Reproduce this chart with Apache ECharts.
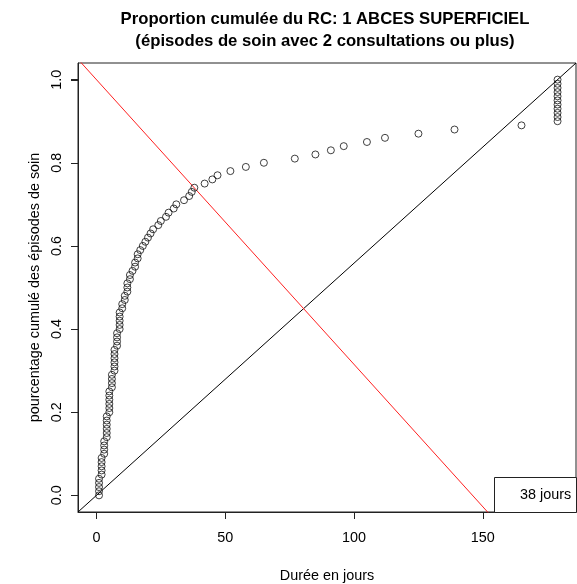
<!DOCTYPE html>
<html>
<head>
<meta charset="utf-8">
<script src="https://cdn.jsdelivr.net/npm/echarts@6/dist/echarts.min.js"></script>
<style>
html,body{margin:0;padding:0;background:#fff;}
#chart{width:577px;height:584px;}
</style>
</head>
<body>
<div id="chart"></div>
<script>
// Episode durations in days (sorted), one per point
var durations = [
  1,1,1,1,1, 2,2,2,2,2, 3,3,3,3, 4,4,4,4,4,4, 5,5,5,5,5,5, 6,6,6,6,
  7,7,7,7,7,7, 8,8,8,8, 9,9,9,9,9, 10,10, 11,11, 12,12, 12,13,13,14,15,15,16,16,
  17,18,19,20,21,22,24,25,27,28,30,31,34,36,37,38,
  42,45,47,52,58,65,77,85,91,96,105,112,125,139,165,
  179,179,179,179,179,179,179,179,179,179,179
];
// Cumulative proportion of care episodes
var cumulative = [
  0.00,0.01,0.02,0.03,0.04,0.05,0.06,0.07,0.08,0.09,
  0.10,0.11,0.12,0.13,0.14,0.15,0.16,0.17,0.18,0.19,
  0.20,0.21,0.22,0.23,0.24,0.25,0.26,0.27,0.28,0.29,
  0.30,0.31,0.32,0.33,0.34,0.35,0.36,0.37,0.38,0.39,
  0.40,0.41,0.42,0.43,0.44,0.45,0.46,0.47,0.48,0.49,
  0.50,0.51,0.52,0.53,0.54,0.55,0.56,0.57,0.58,0.59,
  0.60,0.61,0.62,0.63,0.64,0.65,0.66,0.67,0.68,0.69,
  0.70,0.71,0.72,0.73,0.74,0.75,0.76,0.77,0.78,0.79,
  0.80,0.81,0.82,0.83,0.84,0.85,0.86,0.87,0.88,0.89,
  0.90,0.91,0.92,0.93,0.94,0.95,0.96,0.97,0.98,0.99,1.00
];
var xTicks = [0, 50, 100, 150];
var yTicks = [0, 0.2, 0.4, 0.6, 0.8, 1.0];
var xRange = [0, 179];
var yRange = [0, 1];
// reference lines: intercept, slope
var diagonalLine = {intercept: 0, slope: 1 / 179};
var kneeLine = {intercept: 1, slope: -1 / 146};
var kneeDays = 38;

var titleText = 'Proportion cumulée du RC: 1 ABCES SUPERFICIEL\n(épisodes de soin avec 2 consultations ou plus)';
var xName = 'Durée en jours';
var yName = 'pourcentage cumulé des épisodes de soin';

var FONT = '"Liberation Sans", Arial, Helvetica, sans-serif';
var TICK_LEN = 7;
var W = 577, H = 584;
var GRID = {left: 78, right: 1, top: 63, bottom: 72};
var xPad = (xRange[1] - xRange[0]) * 0.04;
var yPad = (yRange[1] - yRange[0]) * 0.04;
var xMin = xRange[0] - xPad, xMax = xRange[1] + xPad;
var yMin = yRange[0] - yPad, yMax = yRange[1] + yPad;

function lineData(l) {
  return [[xMin, l.intercept + l.slope * xMin], [xMax, l.intercept + l.slope * xMax]];
}
var points = durations.map(function (d, i) { return [d, cumulative[i]]; });

// tick marks (axis decoration) following the same linear axis mapping as the grid
var gx0 = GRID.left, gx1 = W - GRID.right, gy0 = GRID.top, gy1 = H - GRID.bottom;
function xPix(v) { return gx0 + (v - xMin) / (xMax - xMin) * (gx1 - gx0); }
function yPix(v) { return gy1 - (v - yMin) / (yMax - yMin) * (gy1 - gy0); }
var tickEls = [];
xTicks.forEach(function (v) {
  var x = Math.round(xPix(v)) + 0.5;
  tickEls.push({type: 'line', z: 12, silent: true,
    shape: {x1: x, y1: gy1, x2: x, y2: gy1 + TICK_LEN},
    style: {stroke: '#222', lineWidth: 1}});
});
yTicks.forEach(function (v) {
  var y = Math.round(yPix(v)) + 0.5;
  tickEls.push({type: 'line', z: 12, silent: true,
    shape: {x1: gx0, y1: y, x2: gx0 - TICK_LEN, y2: y},
    style: {stroke: '#222', lineWidth: 1}});
});

var legendBox = [
  {
    type: 'rect', left: 494, top: 477, z: 10,
    shape: {width: 82, height: 35},
    style: {fill: '#fff', stroke: '#222', lineWidth: 1}
  },
  {
    type: 'text', left: 520, top: 488, z: 11,
    style: {text: kneeDays + ' jours', font: '14.4px ' + FONT, fill: '#000'}
  }
];

var chart = echarts.init(document.getElementById('chart'), null, {renderer: 'canvas'});
chart.setOption({
  backgroundColor: '#fff',
  animation: false,
  title: {
    text: titleText,
    left: 320,
    top: 3,
    textAlign: 'center',
    textStyle: {fontFamily: FONT, fontSize: 16.7, fontWeight: 'bold', color: '#000', lineHeight: 22}
  },
  grid: {left: GRID.left, right: GRID.right, top: GRID.top, bottom: GRID.bottom, containLabel: false, outerBoundsMode: 'none',
    show: true, borderColor: '#222', borderWidth: 1, backgroundColor: 'transparent'},
  xAxis: {
    type: 'value', min: xMin, max: xMax,
    name: xName, nameLocation: 'middle', nameGap: 57,
    nameTextStyle: {fontFamily: FONT, fontSize: 14.4, color: '#000'},
    axisLine: {show: true, onZero: false, lineStyle: {color: '#222', width: 1}},
    splitLine: {show: false},
    axisTick: {show: true, inside: false, length: TICK_LEN, customValues: xTicks, lineStyle: {color: '#222', width: 1}},
    axisLabel: {customValues: xTicks, margin: 19, fontFamily: FONT, fontSize: 14.4, color: '#000',
      formatter: function (v) { return String(Math.round(v)); }}
  },
  yAxis: {
    type: 'value', min: yMin, max: yMax,
    name: yName, nameLocation: 'middle', nameGap: 30, nameRotate: 90,
    nameTextStyle: {fontFamily: FONT, fontSize: 14.4, color: '#000'},
    axisLine: {show: true, onZero: false, lineStyle: {color: '#222', width: 1}},
    splitLine: {show: false},
    axisTick: {show: true, inside: false, length: TICK_LEN, customValues: yTicks, lineStyle: {color: '#222', width: 1}},
    axisLabel: {customValues: yTicks, rotate: 90, margin: 14, fontFamily: FONT, fontSize: 14.4, color: '#000',
      formatter: function (v) { return v.toFixed(1); }}
  },
  series: [
    {
      type: 'line', data: lineData(diagonalLine), symbol: 'none', clip: true,
      lineStyle: {color: '#000', width: 1}, z: 2, silent: true
    },
    {
      type: 'line', data: lineData(kneeLine), symbol: 'none', clip: true,
      lineStyle: {color: '#ff2020', width: 1}, z: 2, silent: true
    },
    {
      type: 'scatter', data: points, symbol: 'circle', symbolSize: 7,
      itemStyle: {color: 'rgba(0,0,0,0)', borderColor: '#111', borderWidth: 1}, z: 3
    }
  ],
  graphic: legendBox.concat(tickEls)
});
</script>
</body>
</html>
